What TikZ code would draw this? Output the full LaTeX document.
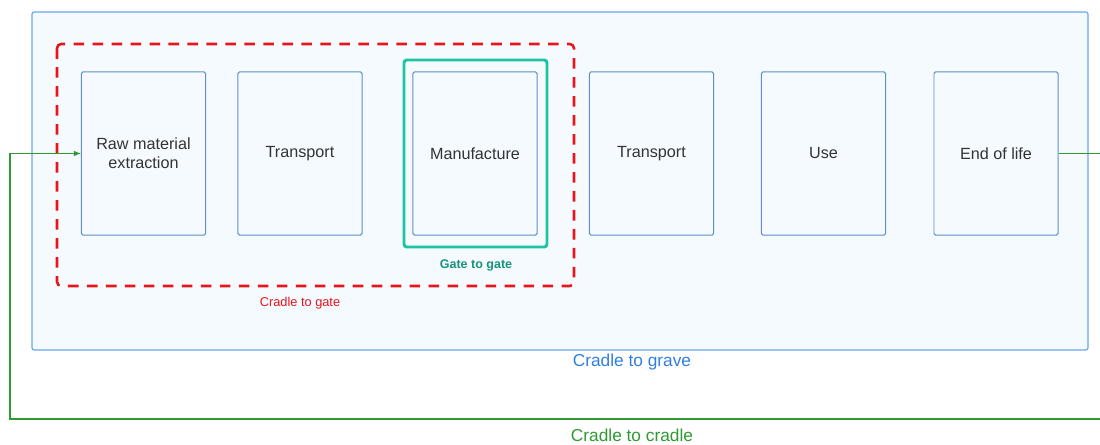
\documentclass[tikz,border=0pt]{standalone}
\usepackage{fontspec}
\setmainfont{Liberation Sans}
\usetikzlibrary{arrows.meta}
\definecolor{bgblue}{HTML}{F5FAFF}
\definecolor{gravecol}{HTML}{6AA6EC}
\definecolor{gravetext}{HTML}{2F7FE0}
\definecolor{stageblue}{HTML}{5C8FCB}
\definecolor{textgray}{HTML}{333333}
\definecolor{gatered}{HTML}{E8151B}
\definecolor{gateteal}{HTML}{1DC4A2}
\definecolor{gatetealtext}{HTML}{17937C}
\definecolor{cyclegreen}{HTML}{2E9A33}
\begin{document}
\begin{tikzpicture}[x=0.025cm, y=-0.025cm,
	stage/.style={draw=stageblue, line width=.7pt, rounded corners=1pt, minimum width=3.1cm, minimum height=4.075cm,
		inner sep=0pt, align=center, text=textgray, font=\fontsize{11.5}{13.8}\selectfont},
	cycleline/.style={draw=cyclegreen, line width=.8pt, -{Latex[length=5pt,width=4pt]}}]
	\useasboundingbox (0,0) rectangle (1100,445);
	%cradle to grave
	\draw[draw=gravecol, fill=bgblue, line width=.8pt, rounded corners=1.5pt] (32,12) rectangle (1088,350);
	\node[text=gravetext, font=\fontsize{12.3}{14}\selectfont] (grave) at (632,362) {Cradle to grave};
	%cradle to gate
	\draw[draw=gatered, line width=1.8pt, dash pattern=on 7.5pt off 6pt, rounded corners=3pt] (57,44) rectangle (574,286);
	\node[text=gatered, font=\fontsize{9.1}{11}\selectfont] (gate) at (300,303) {Cradle to gate};
	%gate to gate
	\draw[draw=gateteal, line width=2.1pt, rounded corners=2pt] (404,60) rectangle (547,247);
	\node[text=gatetealtext, font=\bfseries\fontsize{8.9}{10}\selectfont] (gtog) at (476,265) {Gate to gate};
	%stages
	\node[stage] (raw)   at (143.5,153.5) {Raw material\\extraction};
	\node[stage] (trans) at (300,153.5)   {Transport};
	\node[stage] (manu)  at (475,153.5)   {Manufacture};
	\node[stage] (dist)  at (651.5,153.5) {Transport};
	\node[stage] (use)   at (823.5,153.5) {Use};
	\node[stage] (eol)   at (996,153.5)   {End of life};
	%cradle to cradle
	\coordinate (loopR) at (1104,419);
	\coordinate (loopL) at (10,419);
	\draw[cycleline] (eol.east) -| (loopR) -- (loopL) |- (raw.west);
	\node[text=cyclegreen, font=\fontsize{12.3}{14}\selectfont] (cradle) at (632,435) {Cradle to cradle};
\end{tikzpicture}
\end{document}
